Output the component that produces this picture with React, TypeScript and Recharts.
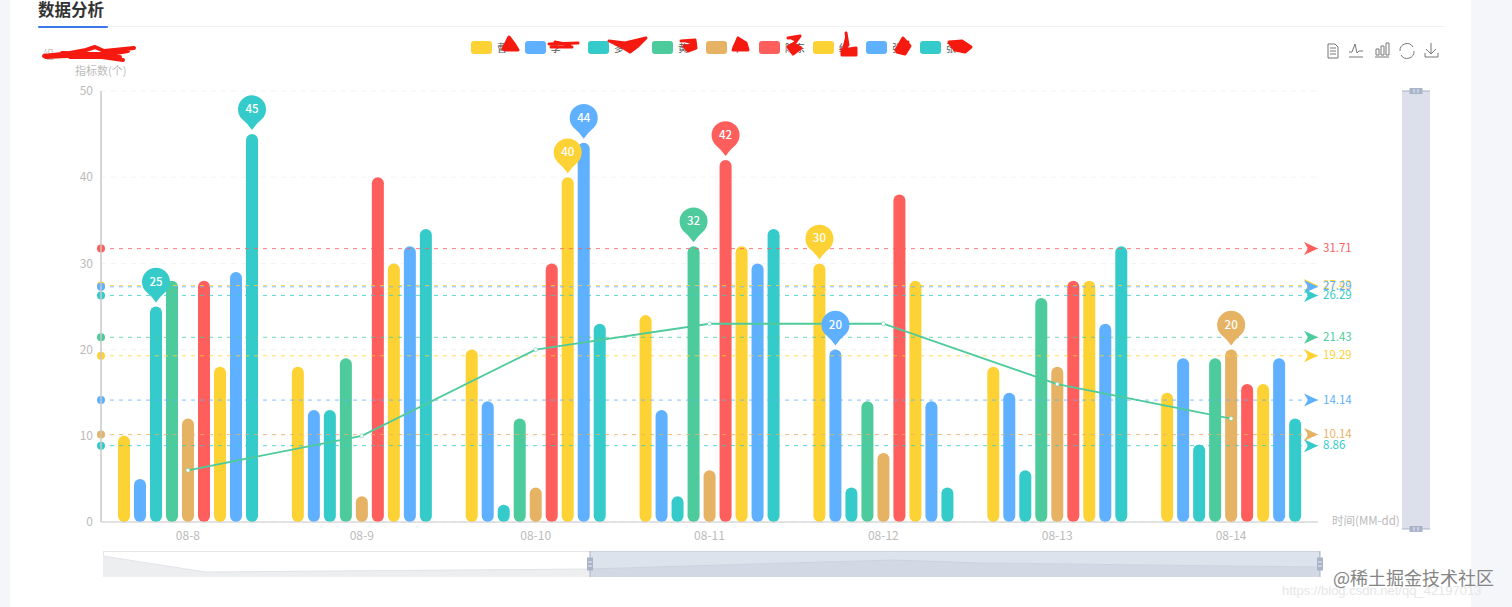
import React from 'react';
import { ComposedChart, Bar, Line, XAxis, YAxis, CartesianGrid, ReferenceLine, Legend, AreaChart, Area } from 'recharts';

const categories = ['08-8', '08-9', '08-10', '08-11', '08-12', '08-13', '08-14'];
const seriesA = [10, 18, 20, 24, 30, 18, 15];
const seriesB = [5, 13, 14, 13, 20, 15, 19];
const seriesC = [25, 13, 2, 3, 4, 6, 9];
const seriesD = [28, 19, 12, 32, 14, 26, 19];
const seriesE = [12, 3, 4, 6, 8, 18, 20];
const seriesF = [28, 40, 30, 42, 38, 28, 16];
const seriesG = [18, 30, 40, 32, 28, 28, 16];
const seriesH = [29, 32, 44, 30, 14, 23, 19];
const seriesI = [45, 34, 23, 34, 4, 32, 12];
const trend = [6, 10, 20, 23, 23, 16, 12];
const yTicks = [0, 10, 20, 30, 40, 50];

const seriesValues = [seriesA, seriesB, seriesC, seriesD, seriesE, seriesF, seriesG, seriesH, seriesI];
const seriesNames = ['曹', '李', '多', '黄', '年', '陈东', '纪', '张', '张'];
const seriesColors = ['#fdd235', '#5fb0ff', '#36cbcb', '#4ecb9c', '#e6b264', '#fe5e5c', '#fdd235', '#5fb0ff', '#36cbcb'];

const overviewPos = [0, 8.4, 40, 50.7, 65, 72, 100];
const overviewVal = [21, 5, 8, 12, 17, 14, 10];

const legendX = [471, 524.7, 588, 652, 705.7, 759, 812.7, 866, 920];

const chartData = categories.map((c, i) => {
  const row: Record<string, number | string> = { name: c, trend: trend[i] };
  seriesValues.forEach((v, k) => { row['s' + k] = v[i]; });
  return row;
});
const overviewData = overviewPos.map((p, i) => ({ p, v: overviewVal[i] }));
const mean = (a: number[]) => a.reduce((s, v) => s + v, 0) / a.length;

const FONT = '"Noto Sans CJK SC", "Noto Sans", sans-serif';

const Pin = (props: any, color: string, max: number) => {
  const { x, y, width, value } = props;
  if (Number(value) !== max) return <g />;
  const cx = x + width / 2;
  const cy = y - 25;
  const tip = y - 4;
  return (
    <g>
      <path
        d={`M${cx - 10.5} ${cy + 9.5} A14 14 0 1 1 ${cx + 10.5} ${cy + 9.5} Q${cx + 4} ${cy + 15} ${cx} ${tip} Q${cx - 4} ${cy + 15} ${cx - 10.5} ${cy + 9.5} Z`}
        fill={color}
      />
      <text x={cx} y={cy + 4} textAnchor="middle" fontSize={11.5} fontWeight={500} fill="#fff" fontFamily={FONT}>{value}</text>
    </g>
  );
};

const MeanMarks = (props: any) => {
  const { viewBox, color, text } = props;
  const { x, y, width } = viewBox;
  const end = x + width;
  return (
    <g>
      <circle cx={x} cy={y} r={4} fill={color} />
      <path d={`M${end} ${y} L${end - 14} ${y - 6.5} L${end - 10} ${y} L${end - 14} ${y + 6.5} Z`} fill={color} />
      <text x={end + 5} y={y + 3.5} fontSize={11.5} fill={color} fontFamily={FONT}>{text}</text>
    </g>
  );
};

const LegendBox = (props: any) => {
  const items = (props.payload || []).filter((p: any) => String(p.dataKey).startsWith('s'));
  return (
    <div style={{ position: 'relative', height: 0, fontFamily: FONT }}>
      {items.map((p: any, i: number) => (
        <div key={String(p.dataKey)} style={{ position: 'absolute', left: legendX[i], top: 41, display: 'flex', alignItems: 'center', height: 13, whiteSpace: 'nowrap' }}>
          <span style={{ width: 21, height: 13, borderRadius: 3, background: p.color, display: 'inline-block' }} />
          <span style={{ marginLeft: 5, fontSize: 10, color: '#555' }}>{p.value}</span>
        </div>
      ))}
    </div>
  );
};

const scribbles = [
  'M44 56 L70 53 L86 50 L95 47 L104 51 L134 48 M46 57 L88 55 L123 60 M62 53 L110 54 L128 51 M70 57 L120 57',
  'M503 49 L509 37 L515 45 L518 50 L505 50 Z M507 42 L512 48',
  'M549 44 L578 43 M551 47 L572 47 M555 42 L570 45',
  'M609 41 L625 43 L646 38 L638 46 L630 52 L622 47 Z',
  'M681 41 L695 40 L696 48 L688 51 L684 46 L694 45',
  'M733 50 L738 38 L746 43 L748 50 Z M735 47 L745 48',
  'M788 38 L800 36 L794 44 L801 48 L793 54 L788 47 L796 42',
  'M846 33 L848 45 L842 50 L856 48 L856 55 L842 55 L842 50',
  'M896 50 L903 38 L910 46 L905 54 L897 52 M900 46 L908 42',
  'M949 42 L962 41 L971 47 L965 52 L955 50 L949 42 M953 45 L968 47',
];

export default function App() {
  return (
    <div style={{ position: 'absolute', left: 0, top: 0, width: 1512, height: 607, background: '#fff', overflow: 'hidden', fontFamily: FONT }}>
      <div style={{ position: 'absolute', left: 0, top: 0, width: 10, height: 607, background: '#f5f6fa' }} />
      <div style={{ position: 'absolute', left: 1471, top: 0, width: 41, height: 607, background: '#f5f6fa' }} />
      <div style={{ position: 'absolute', left: 38, top: 0, fontSize: 16.5, fontWeight: 700, color: '#333', lineHeight: '19px' }}>数据分析</div>
      <div style={{ position: 'absolute', left: 38, top: 26, width: 1407, height: 1, background: '#f0f2f5' }} />
      <div style={{ position: 'absolute', left: 38, top: 26, width: 70, height: 2, background: '#3b78e7', borderRadius: 1 }} />

      {/* Bottom overview */}
      <div style={{ position: 'absolute', left: 103, top: 551, width: 1217, height: 26, border: '1px solid #e4e6ea', boxSizing: 'border-box' }} />
      <div style={{ position: 'absolute', left: 103, top: 551 }}>
        <AreaChart width={1217} height={26} data={overviewData} margin={{ top: 0, right: 0, bottom: 0, left: 0 }}>
          <XAxis dataKey="p" type="number" domain={[0, 100]} hide />
          <YAxis type="number" domain={[0, 26]} hide />
          <Area dataKey="v" type="linear" stroke="#e2e4e8" strokeWidth={1} fill="#eceef0" fillOpacity={1} dot={false} isAnimationActive={false} />
        </AreaChart>
      </div>
      <div style={{ position: 'absolute', left: 590, top: 551, width: 730, height: 26, background: 'rgba(175,188,212,0.42)' }} />

      {/* Right slider */}
      <div style={{ position: 'absolute', left: 1402, top: 91, width: 28, height: 438, background: '#dbe0ea' }} />

      <div style={{ position: 'absolute', left: 0, top: 0 }}>
        <ComposedChart width={1512} height={607} data={chartData} barSize={12} barGap={4} margin={{ top: 91, right: 194, bottom: 55, left: 41 }}>
          <CartesianGrid horizontal vertical={false} stroke="#f1f2f3" strokeDasharray="5 5" />
          <XAxis dataKey="name" height={30} tickLine={false} axisLine={{ stroke: '#c8c8c8', strokeWidth: 1 }} tick={{ fill: '#bbb', fontSize: 12, fontFamily: FONT }} tickMargin={3} interval={0} />
          <YAxis width={60} domain={[0, 50]} ticks={yTicks} tickLine={false} axisLine={{ stroke: '#c8c8c8', strokeWidth: 1.5 }} tick={{ fill: '#bbb', fontSize: 12, fontFamily: FONT }} tickMargin={2} />
          <Legend content={LegendBox} verticalAlign="top" itemSorter={null} wrapperStyle={{ position: 'absolute', left: 0, top: 0, width: 1512, height: 0 }} />
          {seriesValues.map((vals, k) => (
            <Bar
              key={k}
              dataKey={'s' + k}
              name={seriesNames[k]}
              fill={seriesColors[k]}
              radius={[6, 6, 6, 6]}
              isAnimationActive={false}
              label={(p: any) => Pin(p, seriesColors[k], Math.max(...vals))}
            />
          ))}
          {seriesValues.map((vals, k) => (
            <ReferenceLine
              key={'m' + k}
              y={mean(vals)}
              stroke={seriesColors[k]}
              strokeDasharray="4 5"
              strokeOpacity={0.8}
              label={<MeanMarks color={seriesColors[k]} text={mean(vals).toFixed(2)} />}
            />
          ))}
          <Line dataKey="trend" name="trend" legendType="none" stroke="#4ecb9c" strokeWidth={1.8} dot={{ r: 2, fill: '#fff', stroke: '#4ecb9c', strokeWidth: 0.5 }} isAnimationActive={false} />
        </ComposedChart>
      </div>

      <svg width={1512} height={607} style={{ position: 'absolute', left: 0, top: 0, pointerEvents: 'none' }}>
        <text x={43} y={59} fontSize={11} fill="#bbb">组</text>
        <text x={75} y={75} fontSize={11} fill="#bbb">指标数(个)</text>
        <text x={1332} y={525} fontSize={11.5} fill="#bbb">时间(MM-dd)</text>

        {scribbles.map((d, i) => (
          <path key={i} d={d} fill={i === 0 ? 'none' : '#f5190f'} stroke="#f5190f" strokeWidth={i === 0 ? 4 : 3} strokeLinejoin="round" strokeLinecap="round" />
        ))}

        {/* toolbar */}
        <g fill="none" stroke="#777" strokeWidth={1}>
          <path d="M1328 44 H1335 L1338 47 V58 H1328 Z M1330 48 H1336 M1330 51 H1336 M1330 54 H1336" />
          <path d="M1349 57 H1363 M1349 52 H1352 L1355 44 L1357 53 L1359 51 H1363" />
          <path d="M1375 57 H1389 M1376 49 h3 v6 h-3 Z M1381 46 h3 v9 h-3 Z M1386 43 h3 v12 h-3 Z" />
          <path d="M1400 51 A7 7 0 0 1 1413 47 M1414 51 A7 7 0 0 1 1401 55" />
          <path d="M1431 43 V54 M1426 49 L1431 54 L1436 49 M1425 53 V57 H1438 V53" />
        </g>

        {/* sliders */}
        <g stroke="#a9b4c8" fill="#a9b4c8">
          <line x1={1402} x2={1430} y1={91} y2={91} />
          <line x1={1402} x2={1430} y1={529} y2={529} />
          <rect x={1410} y={88.5} width={12} height={5} />
          <rect x={1410} y={526.5} width={12} height={5} />
          <line x1={590} x2={590} y1={551} y2={577} />
          <line x1={1320} x2={1320} y1={551} y2={577} />
          <rect x={587.5} y={558} width={5} height={12} />
          <rect x={1317.5} y={558} width={5} height={12} />
        </g>
        <g stroke="#e8ebf2" strokeWidth={1}>
          <path d="M1414 89 V93 M1418 89 V93 M1414 527 V531 M1418 527 V531 M588 562 H592 M588 566 H592 M1318 562 H1322 M1318 566 H1322" />
        </g>

        <text x={1282} y={595} fontSize={13} fill="#e6e6e6" fontFamily="Liberation Sans">https://blog.csdn.net/qq_42197013</text>
        <text x={1333} y={585} fontSize={18} fill="#858585">@稀土掘金技术社区</text>
      </svg>
    </div>
  );
}
